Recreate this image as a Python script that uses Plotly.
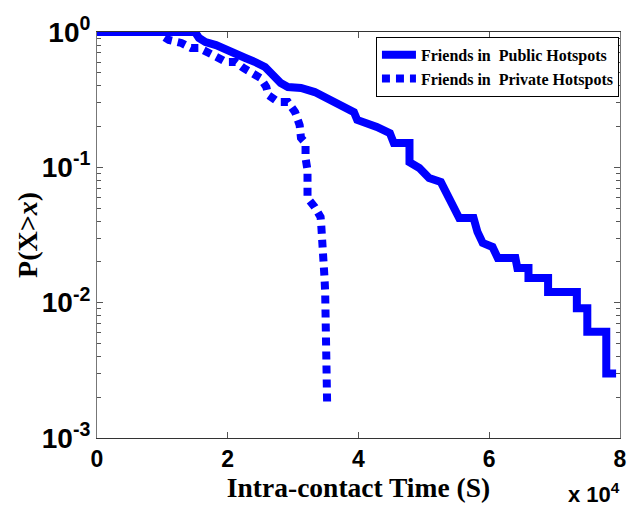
import plotly.graph_objects as go

# Friends in Public Hotspots (CCDF)
pub_x = [0, 1.50, 1.56, 1.66, 1.82, 1.97, 2.12, 2.27, 2.42, 2.57, 2.69, 2.81, 2.92, 3.12, 3.33,
         3.48, 3.63, 3.78, 3.93, 3.98, 4.13, 4.28, 4.48, 4.54, 4.78, 4.78, 4.93, 5.08, 5.26,
         5.34, 5.46, 5.54, 5.76, 5.82, 5.90, 6.05, 6.13, 6.40, 6.43, 6.60, 6.60, 6.90, 6.90,
         7.34, 7.34, 7.50, 7.50, 7.79, 7.79, 7.94]
pub_y = [1.0, 1.0, 0.903, 0.843, 0.80, 0.736, 0.70, 0.643, 0.60, 0.551, 0.481, 0.42, 0.392, 0.386, 0.36,
         0.331, 0.299, 0.279, 0.256, 0.224, 0.212, 0.199, 0.179, 0.151, 0.151, 0.109, 0.0988, 0.0834, 0.0778,
         0.0646, 0.0483, 0.0422, 0.0422, 0.0333, 0.0276, 0.0258, 0.0214, 0.0214, 0.018, 0.018, 0.0152, 0.0152, 0.012,
         0.012, 0.0091, 0.0091, 0.0061, 0.0061, 0.003, 0.003]

# Friends in Private Hotspots (CCDF)
priv_x = [0, 0.95, 0.98, 1.10, 1.29, 1.44, 1.56, 1.71, 1.83, 1.97, 2.12, 2.24, 2.36, 2.50, 2.59,
          2.62, 2.77, 2.92, 3.03, 3.10, 3.12, 3.19, 3.19, 3.22, 3.22, 3.22, 3.33, 3.42, 3.43,
          3.45, 3.45, 3.48, 3.48, 3.49, 3.49, 3.49, 3.49, 3.49, 3.51, 3.51, 3.51, 3.52]
priv_y = [1.0, 1.0, 0.95, 0.873, 0.83, 0.762, 0.762, 0.711, 0.654, 0.60, 0.60, 0.542, 0.506, 0.457, 0.392,
          0.342, 0.304, 0.304, 0.256, 0.205, 0.165, 0.151, 0.117, 0.0955, 0.074, 0.0593, 0.0509, 0.043, 0.0375,
          0.030, 0.0237, 0.0196, 0.0152, 0.012, 0.0093, 0.0074, 0.0060, 0.0046, 0.00358, 0.0028, 0.00226, 0.00181]

x_scale = 1e4
x_ticks = [0, 2, 4, 6, 8]
y_ticks = [1, 0.1, 0.01, 0.001]
y_tick_text = ["10<sup>0</sup>", "10<sup>-1</sup>", "10<sup>-2</sup>", "10<sup>-3</sup>"]

blue = "#0000ff"
fig = go.Figure()
fig.add_trace(go.Scatter(x=[v * x_scale for v in pub_x], y=pub_y, mode="lines",
                         line=dict(color=blue, width=8),
                         name="Friends in\u00a0\u00a0Public Hotspots"))
fig.add_trace(go.Scatter(x=[v * x_scale for v in priv_x], y=priv_y, mode="lines",
                         line=dict(color=blue, width=8, dash="8px,6px"),
                         name="Friends in\u00a0\u00a0Private Hotspots"))

fig.update_layout(
    width=636, height=506,
    margin=dict(l=97, r=9, t=32, b=68),
    paper_bgcolor="white", plot_bgcolor="white",
    showlegend=True,
    legend=dict(x=0.998, y=0.988, xanchor="right", yanchor="top",
                bgcolor="white", bordercolor="black", borderwidth=1,
                font=dict(family="Liberation Serif", size=16, color="black", weight="bold"),
                tracegroupgap=0, itemwidth=34),
    xaxis=dict(range=[0, 8 * x_scale], tickvals=[v * x_scale for v in x_ticks],
               ticktext=[str(v) for v in x_ticks],
               showgrid=False, zeroline=False, showline=True, linecolor="#333333", linewidth=1,
               mirror="ticks", ticks="inside", ticklen=6, tickcolor="#555555",
               tickfont=dict(family="Liberation Sans", size=23, color="black", weight="bold"),
               title=dict(text="Intra-contact Time (S)", standoff=0,
                          font=dict(family="Liberation Serif", size=27.5, color="black", weight="bold"))),
    yaxis=dict(type="log", range=[-3, 0], tickvals=y_ticks, ticktext=y_tick_text,
               showgrid=False, zeroline=False, showline=True, linecolor="#777777", linewidth=1,
               mirror="ticks", ticks="inside", ticklen=6, tickcolor="#555555",
               tickfont=dict(family="Liberation Sans", size=28, color="black", weight="bold"),
               minor=dict(ticks="inside", ticklen=4, tickcolor="#555555", dtick="D1", showgrid=False)),
    annotations=[
        dict(text="P(X><i>x</i>)", textangle=-90, xref="paper", yref="paper",
             x=-0.134, y=0.5, xanchor="center", yanchor="middle", showarrow=False,
             font=dict(family="Liberation Serif", size=28, color="black", weight="bold")),
        dict(text="x 10<sup>4</sup>", xref="paper", yref="paper", x=1.003, y=-0.095,
             xanchor="right", yanchor="top", showarrow=False,
             font=dict(family="Liberation Sans", size=22, color="black", weight="bold")),
    ],
)
fig.write_html("out.html")
